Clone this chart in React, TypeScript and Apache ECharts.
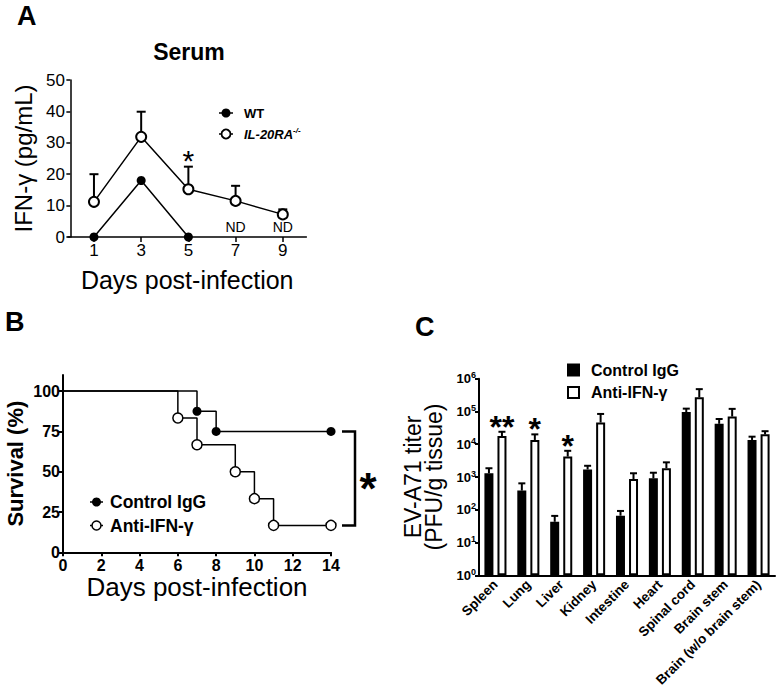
import React, { useEffect, useRef } from 'react';
import * as echarts from 'echarts';

const FONT = 'Arial, "Liberation Sans", Helvetica, sans-serif';

// ---------- Panel A: Serum IFN-γ ----------
const daysA = [1, 3, 5, 7, 9];
const wtDays = [1, 3, 5];
const wtIFN = [0, 18, 0];
const koIFN = [11.2, 31.9, 15.2, 11.5, 7.2];
const koIFNUpper = [20, 39.9, 22.4, 16.3, 8.8];
const ndDays = [7, 9];
const starDaysA = [5];

// ---------- Panel B: Survival ----------
const ctrlDays = [0, 7, 8, 14];
const ctrlSurv = [100, 87.5, 75, 75];
const antiDays = [0, 6, 7, 9, 10, 11, 14];
const antiSurv = [100, 83.3, 66.7, 50, 33.3, 16.7, 16.7];
const survTicks = [0, 25, 50, 75, 100];

// ---------- Panel C: EV-A71 titer ----------
const organs = ['Spleen', 'Lung', 'Liver', 'Kidney', 'Intestine', 'Heart', 'Spinal cord', 'Brain stem', 'Brain (w/o brain stem)'];
const ctrlTiter = [1300, 385, 43, 1700, 66, 910, 96000, 42000, 13500];
const ctrlTiterUpper = [1850, 640, 65, 2200, 92, 1350, 122000, 59000, 17000];
const antiTiter = [17800, 13500, 4200, 46000, 870, 1850, 270000, 70000, 20000];
const antiTiterUpper = [24000, 20000, 6300, 84000, 1300, 2800, 480000, 120000, 25000];
const starOrgans = [0, 1, 2];
const starLabels = ['**', '*', '*'];

const BLACK = '#000';

const errorBar = (dx: number, cap: number) => (params: any, api: any) => {
  const x = api.value(0);
  const base = api.coord([x, api.value(1)]);
  const top = api.coord([x, api.value(2)]);
  const cx = top[0] + dx;
  return {
    type: 'group',
    children: [
      { type: 'line', shape: { x1: cx, y1: base[1], x2: cx, y2: top[1] }, style: { stroke: BLACK, lineWidth: 2 } },
      { type: 'line', shape: { x1: cx - cap / 2, y1: top[1], x2: cx + cap / 2, y2: top[1] }, style: { stroke: BLACK, lineWidth: 2 } },
    ],
  };
};

function buildOption(): any {
  const axisLine = (w: number) => ({ show: true, lineStyle: { color: BLACK, width: w } });
  return {
    animation: false,
    backgroundColor: '#fff',
    textStyle: { fontFamily: FONT, color: BLACK },
    grid: [
      { left: 68, top: 80, width: 238.4, height: 157 },
      { left: 63, top: 375, width: 268, height: 177.3 },
      { left: 479, top: 378.7, width: 296, height: 196.6 },
    ],
    xAxis: [
      {
        gridIndex: 0, type: 'value', min: -0.1, max: 10,
        axisLine: axisLine(1.5),
        axisTick: { customValues: daysA, length: 5, lineStyle: { color: BLACK, width: 1.5 } },
        axisLabel: { customValues: daysA, fontSize: 17, color: BLACK, margin: 5, fontFamily: FONT },
        splitLine: { show: false },
        name: 'Days post-infection', nameLocation: 'middle', nameGap: 30,
        nameTextStyle: { fontSize: 25, color: BLACK, fontFamily: FONT },
      },
      {
        gridIndex: 1, type: 'value', min: 0, max: 14, interval: 2,
        axisLine: axisLine(2),
        axisTick: { length: 4, lineStyle: { color: BLACK, width: 2 } },
        axisLabel: { fontSize: 16, fontWeight: 'bold', color: BLACK, margin: 5, fontFamily: FONT },
        splitLine: { show: false },
        name: 'Days post-infection', nameLocation: 'middle', nameGap: 20,
        nameTextStyle: { fontSize: 26, color: BLACK, fontFamily: FONT },
      },
      {
        gridIndex: 2, type: 'category', data: organs,
        axisLine: axisLine(2),
        axisTick: { alignWithLabel: true, length: 5, lineStyle: { color: BLACK, width: 2 } },
        axisLabel: { rotate: 45, interval: 0, fontSize: 13.5, fontWeight: 'bold', color: BLACK, margin: 7, fontFamily: FONT },
      },
    ],
    yAxis: [
      {
        gridIndex: 0, type: 'value', min: 0, max: 50, interval: 10,
        axisLine: axisLine(1.5),
        axisTick: { show: true, length: 4, lineStyle: { color: BLACK, width: 1.5 } },
        axisLabel: { fontSize: 17, color: BLACK, margin: 3, fontFamily: FONT },
        splitLine: { show: false },
        name: 'IFN-γ (pg/mL)', nameLocation: 'middle', nameGap: 33,
        nameTextStyle: { fontSize: 24, color: BLACK, fontFamily: FONT },
      },
      {
        gridIndex: 1, type: 'value', min: 0, max: 110,
        axisLine: axisLine(2),
        axisTick: { show: true, customValues: survTicks, length: 4, lineStyle: { color: BLACK, width: 2 } },
        axisLabel: { customValues: survTicks, fontSize: 16, fontWeight: 'bold', color: BLACK, margin: 3, fontFamily: FONT },
        splitLine: { show: false },
        name: 'Survival (%)', nameLocation: 'middle', nameGap: 37,
        nameTextStyle: { fontSize: 22, fontWeight: 'bold', color: BLACK, fontFamily: FONT },
      },
      {
        gridIndex: 2, type: 'log', logBase: 10, min: 1, max: 1000000,
        axisLine: axisLine(2),
        axisTick: { show: true, length: 4, lineStyle: { color: BLACK, width: 2 } },
        minorTick: { show: false },
        axisLabel: {
          margin: 3,
          formatter: (v: number) => `{b|10}{s|${Math.round(Math.log10(v))}}`,
          rich: {
            b: { fontSize: 13, fontWeight: 'bold', color: BLACK, fontFamily: FONT, lineHeight: 16 },
            s: { fontSize: 9, fontWeight: 'bold', color: BLACK, fontFamily: FONT, verticalAlign: 'top', lineHeight: 10 },
          },
        },
        splitLine: { show: false },
        name: 'EV-A71 titer\n(PFU/g tissue)', nameLocation: 'middle', nameGap: 35,
        nameTextStyle: { fontSize: 23, lineHeight: 21, color: BLACK, fontFamily: FONT },
      },
    ],
    series: [
      // ---- A ----
      {
        type: 'custom', name: 'IL-20RA error', xAxisIndex: 0, yAxisIndex: 0, z: 1,
        renderItem: errorBar(0, 9),
        data: daysA.map((d, i) => [d, koIFN[i], koIFNUpper[i]]),
      },
      {
        type: 'line', name: 'WT', xAxisIndex: 0, yAxisIndex: 0, z: 3,
        data: wtDays.map((d, i) => [d, wtIFN[i]]),
        symbol: 'circle', symbolSize: 9,
        itemStyle: { color: BLACK },
        lineStyle: { color: BLACK, width: 1.5 },
      },
      {
        type: 'line', name: 'IL-20RA-/-', xAxisIndex: 0, yAxisIndex: 0, z: 3,
        data: daysA.map((d, i) => [d, koIFN[i]]),
        symbol: 'circle', symbolSize: 10,
        itemStyle: { color: '#fff', borderColor: BLACK, borderWidth: 2 },
        lineStyle: { color: BLACK, width: 1.5 },
      },
      {
        type: 'custom', name: 'ND', xAxisIndex: 0, yAxisIndex: 0, z: 4,
        data: ndDays.map((d) => [d, 0]),
        renderItem: (params: any, api: any) => {
          const p = api.coord([api.value(0), api.value(1)]);
          return { type: 'text', x: p[0], y: p[1] - 10, style: { text: 'ND', fontSize: 14, fontFamily: FONT, fill: BLACK, align: 'center', verticalAlign: 'middle' } };
        },
      },
      {
        type: 'custom', name: 'A star', xAxisIndex: 0, yAxisIndex: 0, z: 4,
        data: starDaysA.map((d) => [d, koIFNUpper[daysA.indexOf(d)]]),
        renderItem: (params: any, api: any) => {
          const p = api.coord([api.value(0), api.value(1)]);
          return { type: 'text', x: p[0], y: p[1] - 13.5 + 7, style: { text: '*', fontSize: 30, fontFamily: FONT, fill: BLACK, align: 'center', verticalAlign: 'middle' } };
        },
      },
      // ---- B ----
      {
        type: 'line', name: 'Control IgG', xAxisIndex: 1, yAxisIndex: 1, step: 'end', z: 3,
        data: ctrlDays.map((d, i) => (i === 0 ? { value: [d, ctrlSurv[i]], symbol: 'none' } : [d, ctrlSurv[i]])),
        symbol: 'circle', symbolSize: 9, showAllSymbol: true,
        itemStyle: { color: BLACK },
        lineStyle: { color: BLACK, width: 1.5 },
      },
      {
        type: 'line', name: 'Anti-IFN-γ', xAxisIndex: 1, yAxisIndex: 1, step: 'end', z: 3,
        data: antiDays.map((d, i) => (i === 0 ? { value: [d, antiSurv[i]], symbol: 'none' } : [d, antiSurv[i]])),
        symbol: 'circle', symbolSize: 10, showAllSymbol: true,
        itemStyle: { color: '#fff', borderColor: BLACK, borderWidth: 1.5 },
        lineStyle: { color: BLACK, width: 1.5 },
      },
      {
        type: 'custom', name: 'B significance', xAxisIndex: 1, yAxisIndex: 1, z: 4,
        data: [[ctrlDays[ctrlDays.length - 1], ctrlSurv[ctrlSurv.length - 1], antiSurv[antiSurv.length - 1]]],
        renderItem: (params: any, api: any) => {
          const a = api.coord([api.value(0), api.value(1)]);
          const b = api.coord([api.value(0), api.value(2)]);
          const x0 = a[0] + 11;
          const x1 = a[0] + 24;
          const mid = (a[1] + b[1]) / 2;
          return {
            type: 'group',
            children: [
              { type: 'polyline', shape: { points: [[x0, a[1]], [x1, a[1]], [x1, b[1]], [x0, b[1]]] }, style: { stroke: BLACK, lineWidth: 2.5, fill: null } },
              { type: 'text', x: x1 + 13, y: mid + 5 + 5, style: { text: '*', fontSize: 44, fontWeight: 'bold', fontFamily: FONT, fill: BLACK, align: 'center', verticalAlign: 'middle' } },
            ],
          };
        },
      },
      // ---- C ----
      {
        type: 'bar', name: 'Control IgG (titer)', xAxisIndex: 2, yAxisIndex: 2,
        data: ctrlTiter, barWidth: 9, barGap: '45%',
        itemStyle: { color: BLACK, borderColor: BLACK, borderWidth: 2 },
      },
      {
        type: 'bar', name: 'Anti-IFN-γ (titer)', xAxisIndex: 2, yAxisIndex: 2,
        data: antiTiter, barWidth: 9, barGap: '45%',
        itemStyle: { color: '#fff', borderColor: BLACK, borderWidth: 2 },
      },
      {
        type: 'custom', name: 'Control IgG error', xAxisIndex: 2, yAxisIndex: 2, z: 3,
        renderItem: errorBar(-6.5, 7),
        data: organs.map((o, i) => [i, ctrlTiter[i], ctrlTiterUpper[i]]),
      },
      {
        type: 'custom', name: 'Anti-IFN-γ error', xAxisIndex: 2, yAxisIndex: 2, z: 3,
        renderItem: errorBar(6.5, 7),
        data: organs.map((o, i) => [i, antiTiter[i], antiTiterUpper[i]]),
      },
      {
        type: 'custom', name: 'C stars', xAxisIndex: 2, yAxisIndex: 2, z: 4,
        data: starOrgans.map((i) => [i, antiTiterUpper[i]]),
        renderItem: (params: any, api: any) => {
          const p = api.coord([api.value(0), api.value(1)]);
          return { type: 'text', x: p[0] + 6.5, y: p[1] - 13 + 8, style: { text: starLabels[params.dataIndex], fontSize: 32, fontWeight: 'bold', fontFamily: FONT, fill: BLACK, align: 'center', verticalAlign: 'middle' } };
        },
      },
    ],
    graphic: [
      // panel letters
      { type: 'text', x: 17, y: 16, style: { text: 'A', fontSize: 27, fontWeight: 'bold', fontFamily: FONT, fill: BLACK, verticalAlign: 'middle' } },
      { type: 'text', x: 5, y: 322, style: { text: 'B', fontSize: 27, fontWeight: 'bold', fontFamily: FONT, fill: BLACK, verticalAlign: 'middle' } },
      { type: 'text', x: 415, y: 327, style: { text: 'C', fontSize: 27, fontWeight: 'bold', fontFamily: FONT, fill: BLACK, verticalAlign: 'middle' } },
      // A title
      { type: 'text', x: 189, y: 52, style: { text: 'Serum', fontSize: 23, fontWeight: 'bold', fontFamily: FONT, fill: BLACK, align: 'center', verticalAlign: 'middle' } },
      // A legend
      { type: 'line', shape: { x1: 219, y1: 113, x2: 233, y2: 113 }, style: { stroke: BLACK, lineWidth: 1.5 } },
      { type: 'circle', shape: { cx: 226, cy: 113, r: 4.5 }, style: { fill: BLACK } },
      { type: 'text', x: 244, y: 113, style: { text: 'WT', fontSize: 13, fontWeight: 'bold', fontFamily: FONT, fill: BLACK, verticalAlign: 'middle' } },
      { type: 'line', shape: { x1: 219, y1: 134, x2: 233, y2: 134 }, style: { stroke: BLACK, lineWidth: 1.5 } },
      { type: 'circle', shape: { cx: 226, cy: 134, r: 4.5 }, style: { fill: '#fff', stroke: BLACK, lineWidth: 1.8 } },
      {
        type: 'text', x: 244, y: 134,
        style: {
          text: '{a|IL-20RA}{s|-/-}', verticalAlign: 'middle', fill: BLACK,
          rich: {
            a: { fontSize: 13, fontWeight: 'bold', fontStyle: 'italic', fontFamily: FONT, fill: BLACK, lineHeight: 16 },
            s: { fontSize: 8, fontWeight: 'bold', fontStyle: 'italic', fontFamily: FONT, fill: BLACK, verticalAlign: 'top', lineHeight: 9 },
          },
        },
      },
      // B legend
      { type: 'line', shape: { x1: 90, y1: 502, x2: 103, y2: 502 }, style: { stroke: BLACK, lineWidth: 1.5 } },
      { type: 'circle', shape: { cx: 96.5, cy: 502, r: 4.5 }, style: { fill: BLACK } },
      { type: 'text', x: 110, y: 502, style: { text: 'Control IgG', fontSize: 17.5, fontWeight: 'bold', fontFamily: FONT, fill: BLACK, verticalAlign: 'middle' } },
      { type: 'line', shape: { x1: 90, y1: 525.5, x2: 103, y2: 525.5 }, style: { stroke: BLACK, lineWidth: 1.5 } },
      { type: 'circle', shape: { cx: 96.5, cy: 525.5, r: 4.5 }, style: { fill: '#fff', stroke: BLACK, lineWidth: 1.5 } },
      { type: 'text', x: 110, y: 525.5, style: { text: 'Anti-IFN-γ', fontSize: 17.5, fontWeight: 'bold', fontFamily: FONT, fill: BLACK, verticalAlign: 'middle' } },
      // C legend
      { type: 'rect', shape: { x: 567, y: 363.5, width: 13, height: 13 }, style: { fill: BLACK } },
      { type: 'text', x: 591, y: 370, style: { text: 'Control IgG', fontSize: 16, fontWeight: 'bold', fontFamily: FONT, fill: BLACK, verticalAlign: 'middle' } },
      { type: 'rect', shape: { x: 568, y: 387, width: 11, height: 11 }, style: { fill: '#fff', stroke: BLACK, lineWidth: 2 } },
      { type: 'text', x: 591, y: 392.5, style: { text: 'Anti-IFN-γ', fontSize: 16, fontWeight: 'bold', fontFamily: FONT, fill: BLACK, verticalAlign: 'middle' } },
    ],
  };
}

export default function App() {
  const ref = useRef<HTMLDivElement>(null);
  useEffect(() => {
    document.body.style.margin = '0';
    const chart = echarts.init(ref.current!, null, { renderer: 'svg' });
    chart.setOption(buildOption());
    return () => chart.dispose();
  }, []);
  return <div ref={ref} style={{ width: 780, height: 696 }} />;
}
